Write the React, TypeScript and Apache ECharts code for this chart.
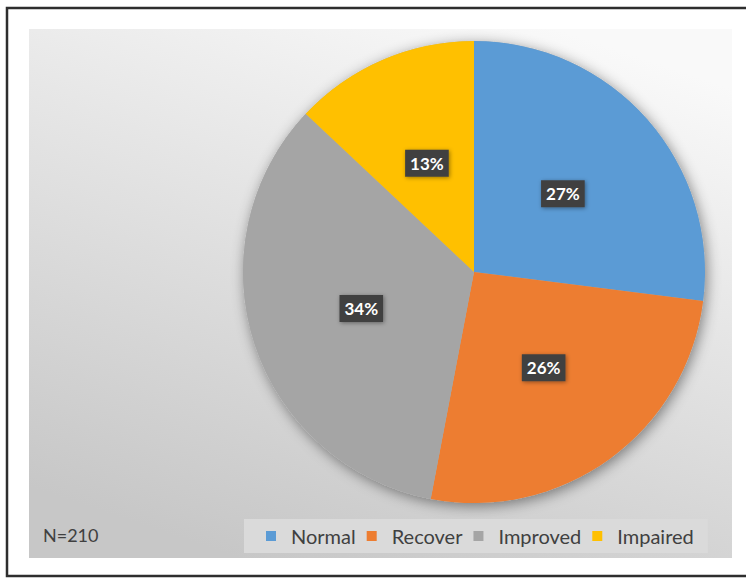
import React, { useEffect, useRef } from "react";
import * as echarts from "echarts";

const categories = ["Normal", "Recover", "Improved", "Impaired"];
const percents = [27, 26, 34, 13];
const colors = ["#5b9bd5", "#ed7d31", "#a5a5a5", "#ffc000"];
const noteText = "N=210";

export default function App() {
  const ref = useRef<HTMLDivElement>(null);
  useEffect(() => {
    if (!ref.current) return;
    const chart = echarts.init(ref.current, null, { renderer: "svg" });
    const font = "Lato, 'Open Sans', sans-serif";
    chart.setOption({
      animation: false,
      backgroundColor: "#ffffff",
      textStyle: { fontFamily: font },
      graphic: [
        {
          type: "rect",
          z: -10,
          silent: true,
          shape: { x: 7, y: 8, width: 760, height: 568 },
          style: { fill: "#ffffff", stroke: "#2e2e2e", lineWidth: 2.5 },
        },
        {
          type: "rect",
          z: -9,
          silent: true,
          shape: { x: 29, y: 29, width: 703, height: 529 },
          style: {
            fill: {
              type: "linear",
              x: 0.75,
              y: 0,
              x2: 0.3,
              y2: 1,
              colorStops: [
                { offset: 0, color: "#f9f9f9" },
                { offset: 1, color: "#c7c7c7" },
              ],
            },
          },
        },
        {
          type: "text",
          z: 10,
          left: 43,
          top: 526,
          style: {
            text: noteText,
            fill: "#404040",
            font: `18px ${font}`,
          },
        },
      ],
      legend: {
        data: categories,
        left: 244,
        top: 519,
        orient: "horizontal",
        icon: "rect",
        itemWidth: 10,
        itemHeight: 10,
        itemGap: 11,
        padding: [7, 14, 7, 22],
        backgroundColor: "#dadada",
        selectedMode: false,
        textStyle: {
          color: "#404040",
          fontSize: 20,
          fontFamily: font,
          padding: [0, 0, 0, 10],
        },
      },
      series: [
        {
          type: "pie",
          silent: true,
          z: 1,
          center: [474, 272],
          radius: 231,
          label: { show: false },
          labelLine: { show: false },
          data: [
            {
              value: 1,
              name: "__shadow",
              itemStyle: {
                color: "#b0b0b0",
                shadowBlur: 14,
                shadowColor: "rgba(0,0,0,0.45)",
                shadowOffsetX: 2,
                shadowOffsetY: 3,
              },
            },
          ],
        },
        {
          type: "pie",
          z: 2,
          center: [474, 272],
          radius: 231,
          startAngle: 90,
          clockwise: true,
          itemStyle: { borderWidth: 0 },
          label: {
            show: true,
            position: "inside",
            formatter: "{c}%",
            color: "#ffffff",
            fontWeight: "bold",
            fontSize: 17,
            fontFamily: font,
            backgroundColor: "#404040",
            padding: [5, 5],
            shadowBlur: 4,
            shadowColor: "rgba(0,0,0,0.4)",
            shadowOffsetX: 1,
            shadowOffsetY: 1,
          },
          labelLine: { show: false },
          data: categories.map((name, i) => ({
            name,
            value: percents[i],
            itemStyle: { color: colors[i] },
          })),
        },
      ],
    });
    return () => chart.dispose();
  }, []);
  return (
    <div
      ref={ref}
      style={{ position: "fixed", left: 0, top: 0, width: 746, height: 578 }}
    />
  );
}
